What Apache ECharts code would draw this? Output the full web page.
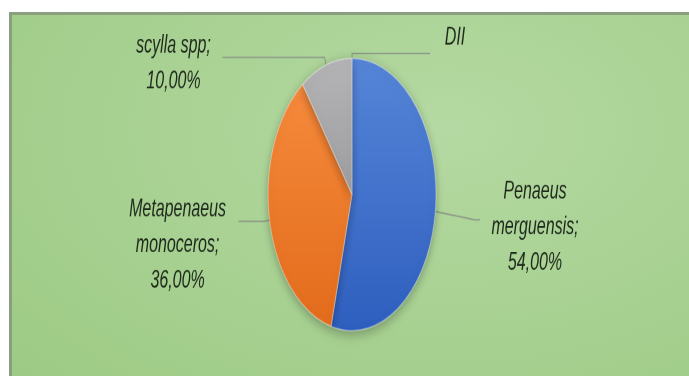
<!DOCTYPE html>
<html>
<head>
<meta charset="utf-8">
<script src="https://cdn.jsdelivr.net/npm/echarts@6/dist/echarts.min.js"></script>
<style>
  html, body { margin: 0; padding: 0; width: 689px; height: 376px; overflow: hidden; background: #ffffff; }
  #bg {
    position: absolute; left: 9px; top: 12px; width: 700px; height: 380px;
    border-top: 3px solid #8b9e7f; border-left: 3px solid #8b9e7f;
    background: radial-gradient(ellipse at 62% 30%, #b5d9a2 0%, #a9d294 45%, #9cca83 100%);
  }
  #wrap {
    position: absolute; left: 0; top: 0; width: 689px; height: 232px;
    transform: scaleY(1.6207); transform-origin: 0 0;
  }
</style>
</head>
<body>
<div id="bg"></div>
<div id="wrap"></div>
<script>
// ---- data ----
const categories = ['DII', 'Penaeus merguensis', 'Metapenaeus monoceros', 'scylla spp'];
const labelNames = ['DII', 'Penaeus\nmerguensis;', 'Metapenaeus\nmonoceros;', 'scylla spp;'];
const values = [0, 54, 36, 10];
const sliceColors = [
  ['#f0c040', '#d9a820'],
  ['#5686d8', '#2f5fbf'],
  ['#f68a3c', '#e36c1c'],
  ['#b5b5b8', '#9d9d9f']
];
// ---- per-slice label styling (layout only) ----
const labelWidths = [40, 100, 112, 88];
const lineLen1 = [3, 40, 5, 5];
const lineLen2 = [78, 5, 26, 102];
const labelPad = [[0, 0, 20, 0], [9, 0, 0, 0], [29, 0, 0, 0], [7, 0, 0, 0]];

const chart = echarts.init(document.getElementById('wrap'), null, { renderer: 'canvas', devicePixelRatio: 2 });

function fmt(i) {
  if (values[i] === 0) return '{t|' + labelNames[i] + '}';
  const lines = labelNames[i].split('\n');
  lines.push(values[i].toFixed(2).replace('.', ',') + '%');
  return lines.map(l => '{t|' + l + '}').join('\n');
}

const data = categories.map((name, i) => ({
  name: name,
  value: values[i],
  itemStyle: {
    color: new echarts.graphic.LinearGradient(0, 0, 0, 1, [
      { offset: 0, color: sliceColors[i][0] },
      { offset: 1, color: sliceColors[i][1] }
    ])
  },
  label: {
    show: true,
    formatter: () => fmt(i),
    padding: labelPad[i],
    rich: {
      t: {
        width: labelWidths[i],
        align: 'center',
        fontFamily: 'Liberation Sans, Arial, sans-serif',
        fontStyle: 'italic',
        fontSize: 16,
        lineHeight: 22,
        color: '#1f2a1c'
      }
    }
  },
  labelLine: {
    show: true,
    length: lineLen1[i],
    length2: lineLen2[i],
    lineStyle: { color: '#8e9e8a', width: 1 }
  }
}));

chart.setOption({
  backgroundColor: 'transparent',
  animation: false,
  series: [{
    type: 'pie',
    center: [352, 120],
    radius: 84,
    startAngle: 89.99,
    clockwise: true,
    avoidLabelOverlap: false,
    minShowLabelAngle: 0,
    itemStyle: {
      borderColor: 'rgba(255,255,255,0.35)',
      borderWidth: 1,
      shadowBlur: 8,
      shadowColor: 'rgba(0,0,0,0.3)',
      shadowOffsetY: 2
    },
    label: { position: 'outside' },
    emphasis: { disabled: true },
    data: data
  }]
});
</script>
</body>
</html>
